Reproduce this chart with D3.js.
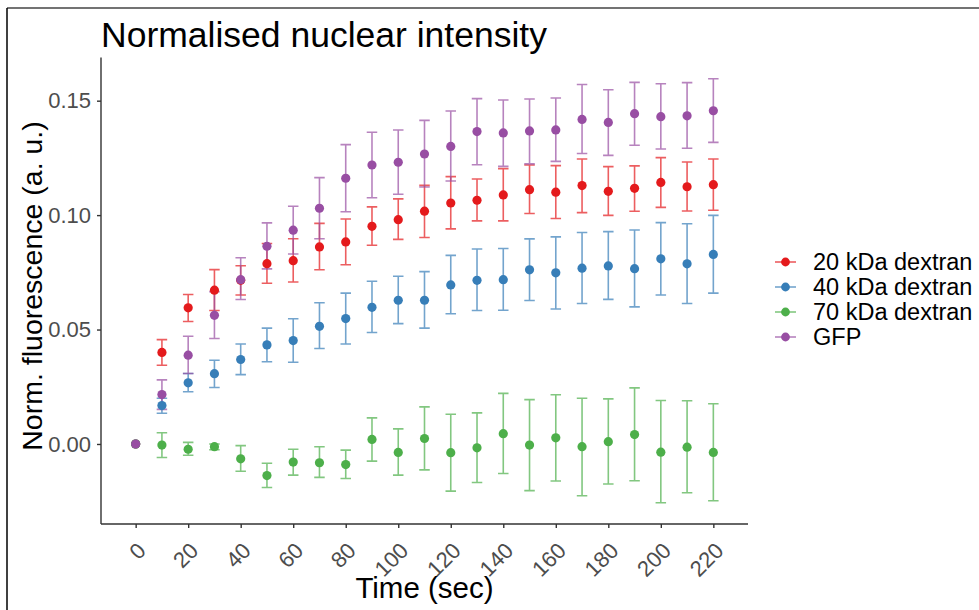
<!DOCTYPE html>
<html>
  <head>
    <meta charset="utf-8">
    <title>Normalised nuclear intensity</title>
    <script src="https://d3js.org/d3.v7.min.js"></script>
    <style>
      body { margin: 0; background: white; }
      svg { display: block; font-family: "Liberation Sans", Arial, sans-serif; }
      .tick text { fill: #4D4D4D; }
    </style>
  </head>
  <body>
    <svg id="chart" width="979" height="610"></svg>
    <script>
      // data
      const times = [0, 10, 20, 30, 40, 50, 60, 70, 80, 90, 100, 110, 120, 130, 140, 150, 160, 170, 180, 190, 200, 210, 220];
      const seriesNames = ["20 kDa dextran", "40 kDa dextran", "70 kDa dextran", "GFP"];
      const seriesColours = ["#E41A1C", "#377EB8", "#4DAF4A", "#984EA3"];

      const mean20 = [0, 0.0400, 0.0595, 0.0672, 0.0715, 0.0788, 0.0801, 0.0861, 0.0883, 0.0951, 0.0980, 0.1017, 0.1053, 0.1065, 0.1088, 0.1111, 0.1100, 0.1129, 0.1104, 0.1117, 0.1143, 0.1124, 0.1133];
      const low20  = [0, 0.0344, 0.0535, 0.0583, 0.0651, 0.0702, 0.0708, 0.0761, 0.0783, 0.0868, 0.0894, 0.0902, 0.0940, 0.0975, 0.0975, 0.1007, 0.0985, 0.1011, 0.0999, 0.1017, 0.1034, 0.1018, 0.1021];
      const high20 = [0, 0.0456, 0.0653, 0.0762, 0.0779, 0.0876, 0.0897, 0.0964, 0.0983, 0.1036, 0.1071, 0.1130, 0.1168, 0.1158, 0.1203, 0.1219, 0.1216, 0.1245, 0.1212, 0.1215, 0.1251, 0.1232, 0.1245];

      const mean40 = [0, 0.0168, 0.0267, 0.0307, 0.0369, 0.0433, 0.0452, 0.0514, 0.0548, 0.0597, 0.0628, 0.0628, 0.0695, 0.0715, 0.0718, 0.0761, 0.0748, 0.0768, 0.0778, 0.0766, 0.0809, 0.0787, 0.0828];
      const low40  = [0, 0.0134, 0.0228, 0.0247, 0.0303, 0.0359, 0.0357, 0.0417, 0.0437, 0.0487, 0.0526, 0.0506, 0.0569, 0.0583, 0.0584, 0.0627, 0.0590, 0.0614, 0.0632, 0.0599, 0.0651, 0.0614, 0.0659];
      const high40 = [0, 0.0200, 0.0308, 0.0366, 0.0437, 0.0506, 0.0547, 0.0617, 0.0659, 0.0711, 0.0733, 0.0753, 0.0824, 0.0852, 0.0854, 0.0896, 0.0905, 0.0924, 0.0928, 0.0935, 0.0967, 0.0962, 0.0999];

      const mean70 = [0, -0.0005, -0.0023, -0.0012, -0.0065, -0.0138, -0.0079, -0.0082, -0.0090, 0.0020, -0.0037, 0.0024, -0.0038, -0.0017, 0.0045, -0.0005, 0.0027, -0.0012, 0.0010, 0.0041, -0.0036, -0.0014, -0.0037];
      const low70  = [0, -0.0059, -0.0049, -0.0025, -0.0119, -0.0190, -0.0136, -0.0146, -0.0151, -0.0075, -0.0136, -0.0113, -0.0206, -0.0168, -0.0129, -0.0204, -0.0162, -0.0226, -0.0175, -0.0161, -0.0257, -0.0213, -0.0248];
      const high70 = [0, 0.0049, 0.0007, 0.0000, -0.0007, -0.0084, -0.0023, -0.0012, -0.0027, 0.0114, 0.0066, 0.0162, 0.0130, 0.0136, 0.0221, 0.0194, 0.0215, 0.0200, 0.0197, 0.0245, 0.0190, 0.0189, 0.0176];

      const meanGFP = [0, 0.0216, 0.0388, 0.0562, 0.0718, 0.0864, 0.0934, 0.1030, 0.1161, 0.1219, 0.1231, 0.1267, 0.1300, 0.1365, 0.1359, 0.1368, 0.1372, 0.1418, 0.1405, 0.1443, 0.1430, 0.1434, 0.1456];
      const lowGFP  = [0, 0.0151, 0.0308, 0.0461, 0.0631, 0.0765, 0.0830, 0.0897, 0.1015, 0.1076, 0.1091, 0.1123, 0.1149, 0.1220, 0.1213, 0.1224, 0.1235, 0.1269, 0.1261, 0.1305, 0.1289, 0.1292, 0.1318];
      const highGFP = [0, 0.0280, 0.0471, 0.0665, 0.0814, 0.0966, 0.1039, 0.1164, 0.1308, 0.1362, 0.1372, 0.1414, 0.1455, 0.1509, 0.1503, 0.1507, 0.1512, 0.1571, 0.1548, 0.1580, 0.1574, 0.1579, 0.1596];

      const xTicks = [0, 20, 40, 60, 80, 100, 120, 140, 160, 180, 200, 220];
      const yTicks = [0, 0.05, 0.10, 0.15];

      // build rows for d3
      const means = [mean20, mean40, mean70, meanGFP];
      const lows = [low20, low40, low70, lowGFP];
      const highs = [high20, high40, high70, highGFP];
      const series = seriesNames.map(function(name, i) {
        return {
          name: name,
          colour: seriesColours[i],
          values: times.map(function(t, j) {
            return { t: t, mean: means[i][j], low: lows[i][j], high: highs[i][j] };
          })
        };
      });

      const svg = d3.select("#chart");
      const panel = { left: 101, right: 748, top: 57.5, bottom: 524 };
      const capHalf = 2; // error bar cap half width, in seconds

      // scales with ggplot-like 5% expansion
      const xMin = d3.min(times) - capHalf, xMax = d3.max(times) + capHalf;
      const xPad = (xMax - xMin) * 0.05;
      const x = d3.scaleLinear()
        .domain([xMin - xPad, xMax + xPad])
        .range([panel.left, panel.right]);
      const yMin = d3.min(lows, function(a) { return d3.min(a); });
      const yMax = d3.max(highs, function(a) { return d3.max(a); });
      const yPad = (yMax - yMin) * 0.05;
      const y = d3.scaleLinear()
        .domain([yMin - yPad, yMax + yPad])
        .range([panel.bottom, panel.top]);

      // frame edges
      svg.append("line")
        .attr("x1", 7).attr("x2", 979).attr("y1", 8).attr("y2", 8)
        .attr("stroke", "#444").attr("stroke-width", 1.5);
      svg.append("line")
        .attr("x1", 7).attr("x2", 7).attr("y1", 8).attr("y2", 610)
        .attr("stroke", "#000").attr("stroke-width", 1.5);

      // axes
      const xAxis = d3.axisBottom(x)
        .tickValues(xTicks)
        .tickSize(4)
        .tickSizeOuter(0)
        .tickFormat(d3.format("d"));
      const xAxisGroup = svg.append("g")
        .attr("transform", "translate(0," + panel.bottom + ")")
        .call(xAxis);
      xAxisGroup.select(".domain")
        .attr("d", "M" + panel.left + ",0H" + panel.right);
      xAxisGroup.selectAll(".tick text")
        .attr("font-size", 22)
        .attr("text-anchor", "end")
        .attr("dy", null)
        .attr("y", null)
        .attr("transform", "translate(11,28) rotate(-45)");

      const yAxis = d3.axisLeft(y)
        .tickValues(yTicks)
        .tickSize(4)
        .tickSizeOuter(0)
        .tickFormat(d3.format(".2f"));
      const yAxisGroup = svg.append("g")
        .attr("transform", "translate(" + panel.left + ",0)")
        .call(yAxis);
      yAxisGroup.select(".domain")
        .attr("d", "M0," + panel.top + "V" + panel.bottom);
      yAxisGroup.selectAll(".tick text")
        .attr("font-size", 22)
        .attr("x", -10);

      svg.selectAll(".domain, .tick line")
        .attr("stroke", "#333")
        .attr("stroke-width", 1.4);

      // error bars first, then points on top
      const bars = svg.append("g")
        .selectAll("g")
          .data(series)
        .enter().append("g")
          .attr("stroke", function(d) { return d.colour; })
          .attr("stroke-opacity", 0.7)
          .attr("stroke-width", 1.6)
          .attr("fill", "none");
      bars.selectAll("path")
          .data(function(d) { return d.values.filter(function(v) { return v.t > 0; }); })
        .enter().append("path")
          .attr("d", function(v) {
            const x0 = x(v.t - capHalf), x1 = x(v.t + capHalf), xc = x(v.t);
            return "M" + x0 + "," + y(v.high) + "H" + x1 +
              "M" + xc + "," + y(v.high) + "V" + y(v.low) +
              "M" + x0 + "," + y(v.low) + "H" + x1;
          });

      const points = svg.append("g")
        .selectAll("g")
          .data(series)
        .enter().append("g")
          .attr("fill", function(d) { return d.colour; });
      points.selectAll("circle")
          .data(function(d) { return d.values; })
        .enter().append("circle")
          .attr("cx", function(v) { return x(v.t); })
          .attr("cy", function(v) { return y(v.mean); })
          .attr("r", 4.6);

      // titles
      svg.append("text")
        .attr("x", panel.left)
        .attr("y", 47)
        .attr("font-size", 35.5)
        .attr("fill", "#000")
        .text("Normalised nuclear intensity");
      svg.append("text")
        .attr("x", (panel.left + panel.right) / 2)
        .attr("y", 598)
        .attr("text-anchor", "middle")
        .attr("font-size", 29.5)
        .attr("fill", "#000")
        .text("Time (sec)");
      svg.append("text")
        .attr("transform", "translate(42," + 286 + ") rotate(-90)")
        .attr("text-anchor", "middle")
        .attr("font-size", 28.5)
        .attr("fill", "#000")
        .text("Norm. fluorescence (a. u.)");

      // legend
      const legend = svg.append("g")
        .attr("transform", "translate(775,262)");
      const items = legend.selectAll("g")
          .data(series)
        .enter().append("g")
          .attr("transform", function(d, i) { return "translate(0," + i * 25 + ")"; });
      items.append("line")
        .attr("x1", 0).attr("x2", 21)
        .attr("stroke", function(d) { return d.colour; })
        .attr("stroke-opacity", 0.7)
        .attr("stroke-width", 1.6);
      items.append("circle")
        .attr("cx", 10.5)
        .attr("r", 4.4)
        .attr("fill", function(d) { return d.colour; });
      items.append("text")
        .attr("x", 38)
        .attr("dy", "0.36em")
        .attr("font-size", 23.5)
        .attr("fill", "#000")
        .text(function(d) { return d.name; });
    </script>
  </body>
</html>
